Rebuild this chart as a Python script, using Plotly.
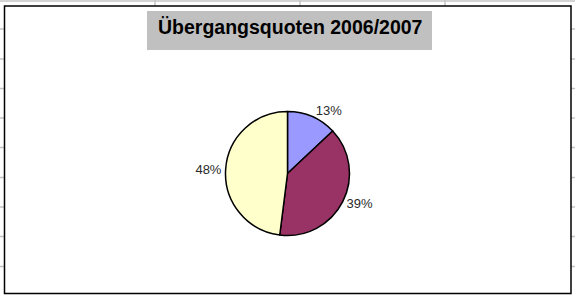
import plotly.graph_objects as go

# Data
categories = ["Kategorie A", "Kategorie B", "Kategorie C"]
values = [13, 39, 48]
slice_colors = ["#9999FF", "#993366", "#FFFFCC"]
title_text = "Übergangsquoten 2006/2007"

W, H = 575, 295

def px(x):
    return x / W

def py(y):
    return 1 - y / H

fig = go.Figure()

fig.add_trace(go.Pie(
    labels=categories,
    values=values,
    sort=False,
    direction="clockwise",
    rotation=0,
    marker=dict(colors=slice_colors, line=dict(color="black", width=1.5)),
    textinfo="percent",
    texttemplate="%{percent:.0%}",
    textposition="outside",
    outsidetextfont=dict(family="Liberation Sans, Arial, sans-serif", size=13, color="#2a2a2a"),
    hoverinfo="label+percent",
    showlegend=False,
    domain=dict(x=[px(225.5), px(349.5)], y=[py(235.5), py(111.5)]),
))

shapes = []
grid_color = "#c4c4c4"
# spreadsheet gridlines behind the chart
for gy in [1, 29, 59, 88.5, 118, 147.5, 177.5, 207, 236.5, 266.5]:
    shapes.append(dict(type="line", xref="paper", yref="paper",
                       x0=0, x1=1, y0=py(gy), y1=py(gy),
                       line=dict(color=grid_color, width=1.5), layer="below"))
for gx in [155, 300, 445]:
    shapes.append(dict(type="line", xref="paper", yref="paper",
                       x0=px(gx), x1=px(gx), y0=py(6), y1=1,
                       line=dict(color=grid_color, width=1.5), layer="below"))
# chart area
shapes.append(dict(type="rect", xref="paper", yref="paper",
                   x0=px(4.5), x1=px(571), y0=py(293.5), y1=py(6),
                   fillcolor="white", line=dict(color="black", width=1.5), layer="below"))
# title box
shapes.append(dict(type="rect", xref="paper", yref="paper",
                   x0=px(147), x1=px(432), y0=py(50), y1=py(11),
                   fillcolor="#C0C0C0", line=dict(width=0), layer="below"))

fig.update_layout(
    width=W, height=H,
    margin=dict(l=0, r=0, t=0, b=0),
    paper_bgcolor="white",
    plot_bgcolor="white",
    shapes=shapes,
    annotations=[dict(
        text="<b>" + title_text + "</b>",
        xref="paper", yref="paper",
        x=px(289.5), y=py(27.5), xanchor="center", yanchor="middle",
        showarrow=False,
        font=dict(family="Liberation Sans, Arial, sans-serif", size=19.5, color="black"),
    )],
)

fig.write_html("out.html", config={"displayModeBar": False},
               post_script="document.body.style.margin='0';document.body.style.overflow='hidden';")
